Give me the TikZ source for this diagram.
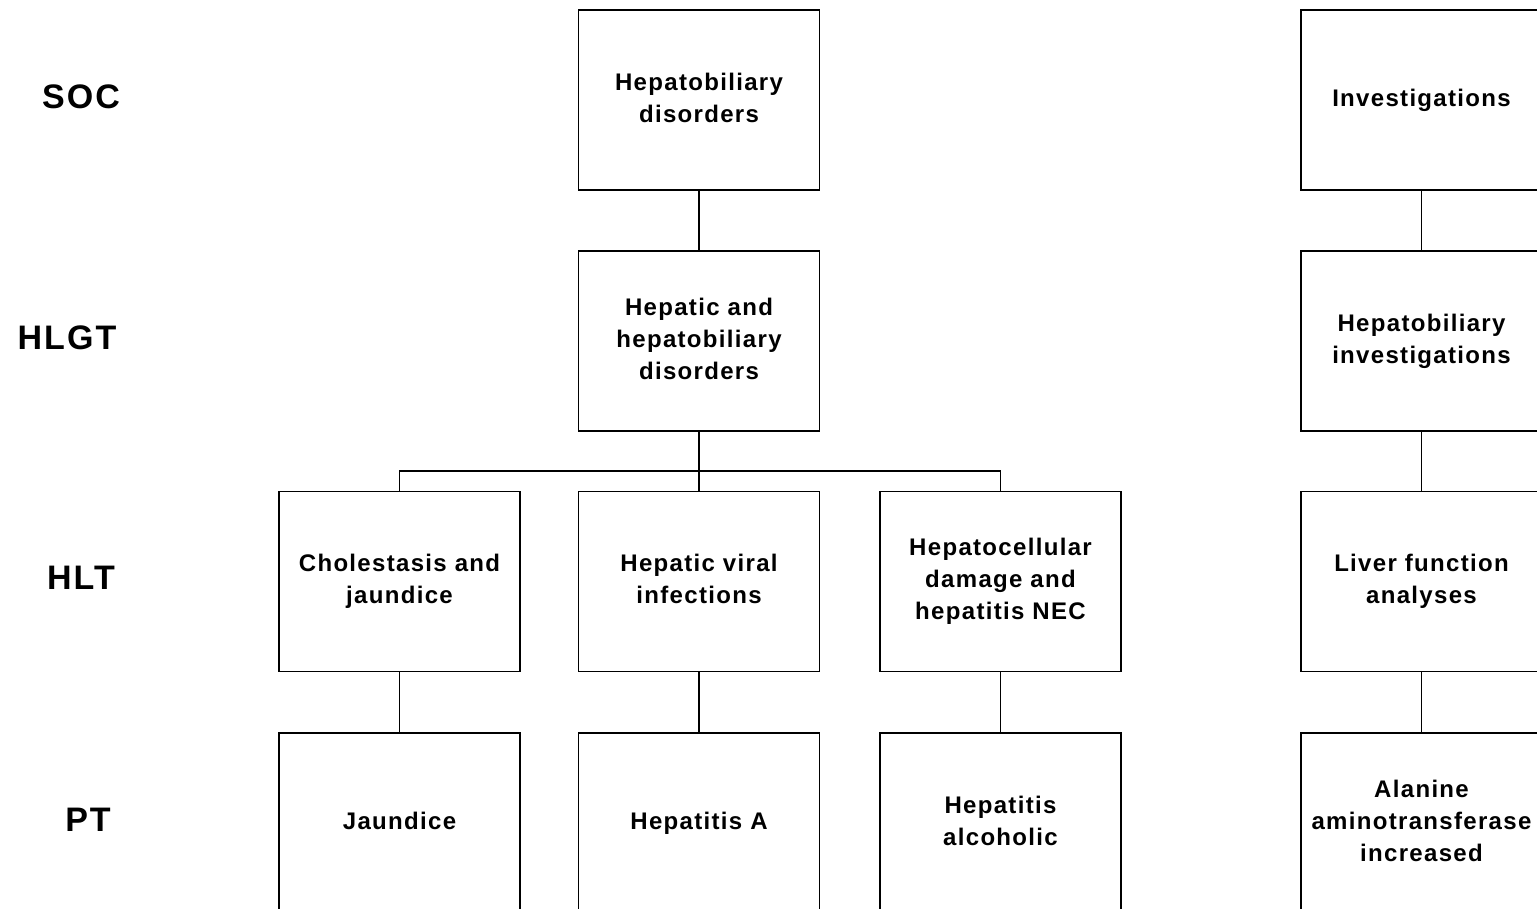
\documentclass[tikz,border=0pt]{standalone}
\usepackage{fontspec}
\setmainfont{Liberation Sans}
\newfontfamily\boxfont[LetterSpace=5.5]{Liberation Sans Bold}
\newfontfamily\lvlfont[LetterSpace=6]{Liberation Sans Bold}
\begin{document}
\begin{tikzpicture}[x=1pt,y=-1pt,
  termbox/.style={draw, line width=1.8pt, minimum width=241pt, minimum height=180pt,
    inner sep=0pt, text depth=5pt, align=center, font=\boxfont\fontsize{24}{32}\selectfont},
  lvl/.style={inner sep=0pt, font=\lvlfont\fontsize{34}{40}\selectfont},
  conn/.style={line width=1.8pt}]
\useasboundingbox (0,0) rectangle (1537,909);
\clip (0,0) rectangle (1537,909);
% level labels
\node[lvl] (lsoc) at (81,97) {SOC};
\node[lvl] (lhlgt) at (67,338) {HLGT};
\node[lvl] (lhlt) at (81,578) {HLT};
\node[lvl] (lpt) at (88,820) {PT};
% middle column
\node[termbox] (soc1) at (699,100) {Hepatobiliary\\disorders};
\node[termbox] (hlgt1) at (699,341) {Hepatic and\\hepatobiliary\\disorders};
\node[termbox] (hlt1) at (399.5,581.5) {Cholestasis and\\jaundice};
\node[termbox] (hlt2) at (699,581.5) {Hepatic viral\\infections};
\node[termbox] (hlt3) at (1000.5,581.5) {Hepatocellular\\damage and\\hepatitis NEC};
\node[termbox] (pt1) at (399.5,823) {Jaundice};
\node[termbox] (pt2) at (699,823) {Hepatitis A};
\node[termbox] (pt3) at (1000.5,823) {Hepatitis\\alcoholic};
% right column
\node[termbox] (soc2) at (1421.5,100) {Investigations};
\node[termbox] (hlgt2) at (1421.5,341) {Hepatobiliary\\investigations};
\node[termbox] (hlt4) at (1421.5,581.5) {Liver function\\analyses};
\node[termbox] (pt4) at (1421.5,823) {Alanine\\aminotransferase\\increased};
% connectors
\draw[conn] (soc1) -- (hlgt1);
\draw[conn] (hlgt1.south) -- ++(0,39) coordinate (bus);
\draw[conn] (bus) -| (hlt1.north);
\draw[conn] (bus) -| (hlt3.north);
\draw[conn] (bus) -- (hlt2.north);
\draw[conn] (hlt1) -- (pt1);
\draw[conn] (hlt2) -- (pt2);
\draw[conn] (hlt3) -- (pt3);
\draw[conn] (soc2) -- (hlgt2);
\draw[conn] (hlgt2) -- (hlt4);
\draw[conn] (hlt4) -- (pt4);
\end{tikzpicture}
\end{document}
